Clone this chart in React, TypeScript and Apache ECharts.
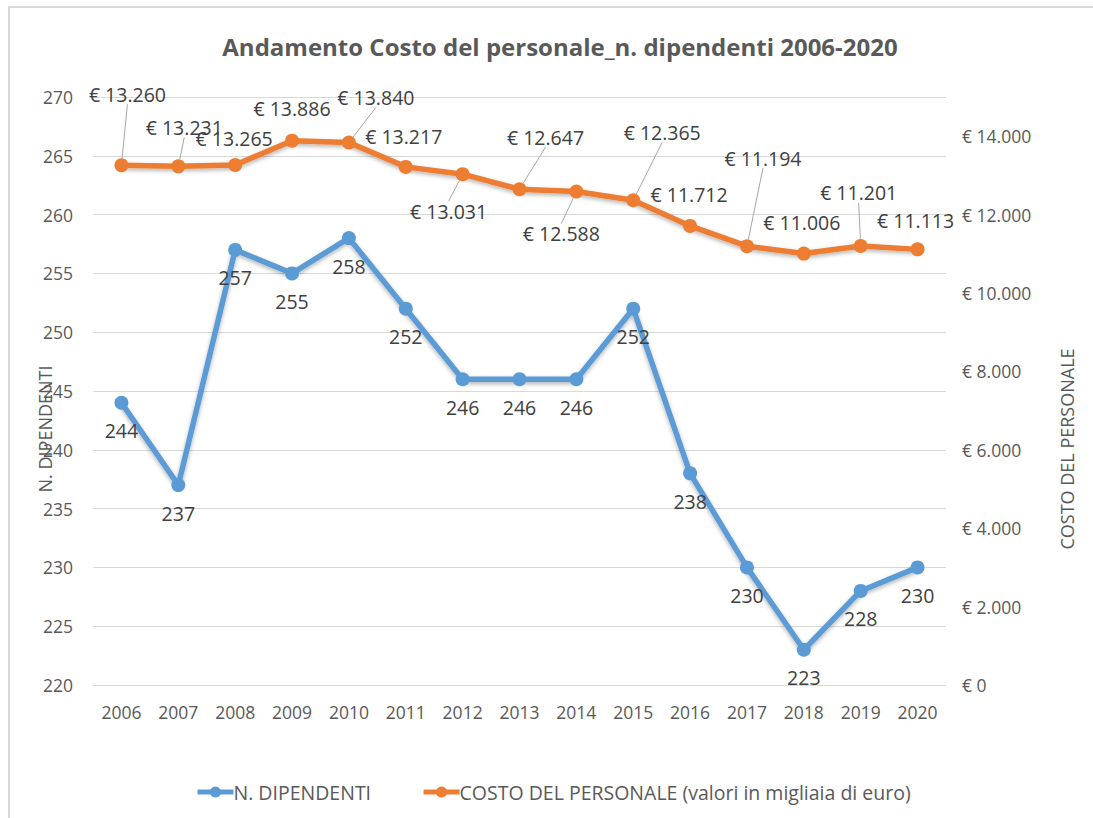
import React, { useEffect, useRef } from "react";
import * as echarts from "echarts";

const years = ["2006","2007","2008","2009","2010","2011","2012","2013","2014","2015","2016","2017","2018","2019","2020"];
const dipendenti = [244, 237, 257, 255, 258, 252, 246, 246, 246, 252, 238, 230, 223, 228, 230];
const costo = [13260, 13231, 13265, 13886, 13840, 13217, 13031, 12647, 12588, 12365, 11712, 11194, 11006, 11201, 11113];
const leftTicks = { min: 220, max: 270, interval: 5 };
const rightTicks = { min: 0, max: 15000, interval: 2000 };
// label displacements (layout only), relative to the point
const costoLabelShift: [number, number][] = [
  [6, -71], [6, -39], [-1, -27], [0, -32], [27, -45], [-2, -30], [-14, 37], [26, -52],
  [-15, 42], [29, -68], [-1, -31], [16, -88], [-2, -31], [-2, -53], [-2, -29],
];
const costoLeader = [true, true, false, false, true, false, true, true, true, true, false, true, false, true, false];

const FONT = "'Open Sans', 'Noto Sans', sans-serif";
const GRAY = "#595959";

function fmtEuro(v: number): string {
  const s = Math.round(v).toString();
  return "€ " + s.replace(/\B(?=(\d{3})+(?!\d))/g, ".");
}

export default function App() {
  const ref = useRef<HTMLDivElement>(null);
  useEffect(() => {
    if (!ref.current) return;
    const chart = echarts.init(ref.current, undefined, { renderer: "svg" });
    chart.setOption({
      animation: false,
      backgroundColor: "#ffffff",
      title: {
        text: "Andamento Costo del personale_n. dipendenti 2006-2020",
        left: 555,
        textAlign: "center",
        top: 29,
        textStyle: { fontFamily: FONT, fontSize: 24, fontWeight: "bold", color: GRAY },
      },
      graphic: [
        {
          type: "polyline",
          shape: { points: [[9, 830], [9, 7], [1100, 7]] },
          style: { stroke: "#D9D9D9", lineWidth: 2, fill: "none" },
          silent: true,
        },
        {
          type: "text",
          x: 45,
          y: 429,
          rotation: Math.PI / 2,
          style: {
            text: "N. DIPENDENTI",
            fontFamily: FONT,
            fontSize: 18,
            fill: GRAY,
            align: "center",
            verticalAlign: "middle",
          },
          silent: true,
        },
        {
          type: "text",
          x: 1067,
          y: 449,
          rotation: Math.PI / 2,
          style: {
            text: "COSTO DEL PERSONALE",
            fontFamily: FONT,
            fontSize: 18,
            fill: GRAY,
            align: "center",
            verticalAlign: "middle",
          },
          silent: true,
        },
      ],
      legend: {
        left: 190,
        top: 777,
        itemWidth: 36,
        itemHeight: 14,
        itemGap: 50,
        lineStyle: { width: 5 },
        textStyle: { fontFamily: FONT, fontSize: 19.5, color: GRAY, padding: [0, 0, 0, -5] },
        data: ["N. DIPENDENTI", "COSTO DEL PERSONALE (valori in migliaia di euro)"],
      },
      grid: { left: 93, right: 147, top: 97, bottom: 133 },
      xAxis: {
        type: "category",
        data: years,
        boundaryGap: true,
        axisLine: { show: true, lineStyle: { color: "#D9D9D9", width: 1 } },
        axisTick: { show: false },
        axisLabel: { fontFamily: FONT, fontSize: 17.5, color: GRAY, margin: 18 },
      },
      yAxis: [
        {
          type: "value",
          min: leftTicks.min,
          max: leftTicks.max,
          interval: leftTicks.interval,
          axisLine: { show: false },
          axisTick: { show: false },
          splitLine: { show: true, lineStyle: { color: "#D9D9D9", width: 1 } },
          axisLabel: { fontFamily: FONT, fontSize: 17.5, color: GRAY, margin: 20 },
        },
        {
          type: "value",
          position: "right",
          min: rightTicks.min,
          max: rightTicks.max,
          interval: rightTicks.interval,
          axisLine: { show: false },
          axisTick: { show: false },
          splitLine: { show: false },
          axisLabel: {
            fontFamily: FONT,
            fontSize: 17.5,
            color: GRAY,
            margin: 16,
            formatter: (v: number) => (v === rightTicks.max ? "" : fmtEuro(v)),
          },
        },
      ],
      series: [
        {
          name: "N. DIPENDENTI",
          type: "line",
          yAxisIndex: 0,
          data: dipendenti,
          symbol: "circle",
          symbolSize: 14,
          itemStyle: { color: "#5B9BD5" },
          lineStyle: {
            color: "#5B9BD5",
            width: 5.5,
            shadowBlur: 4,
            shadowColor: "rgba(0,0,0,0.3)",
            shadowOffsetY: 2,
          },
          label: {
            show: true,
            position: "bottom",
            distance: 11,
            fontFamily: FONT,
            fontSize: 19.5,
            color: "#404040",
          },
          z: 3,
        },
        {
          name: "COSTO DEL PERSONALE (valori in migliaia di euro)",
          type: "line",
          yAxisIndex: 1,
          data: costo.map((v, i) => ({
            value: v,
            labelLine: { show: costoLeader[i] },
          })),
          symbol: "circle",
          symbolSize: 14,
          itemStyle: { color: "#ED7D31" },
          lineStyle: {
            color: "#ED7D31",
            width: 5.5,
            shadowBlur: 4,
            shadowColor: "rgba(0,0,0,0.3)",
            shadowOffsetY: 2,
          },
          label: {
            show: true,
            position: "inside",
            fontFamily: FONT,
            fontSize: 19.5,
            color: "#404040",
            formatter: (p: any) => fmtEuro(p.value),
          },
          labelLine: {
            show: true,
            lineStyle: { color: "#A6A6A6", width: 1 },
          },
          labelLayout: (p: any) => {
            const s = costoLabelShift[p.dataIndex] || [0, 0];
            return { dx: s[0], dy: s[1] };
          },
          z: 4,
        },
      ],
    });
    return () => chart.dispose();
  }, []);
  return (
    <div
      ref={ref}
      style={{ position: "fixed", left: 0, top: 0, width: 1093, height: 818 }}
    />
  );
}
